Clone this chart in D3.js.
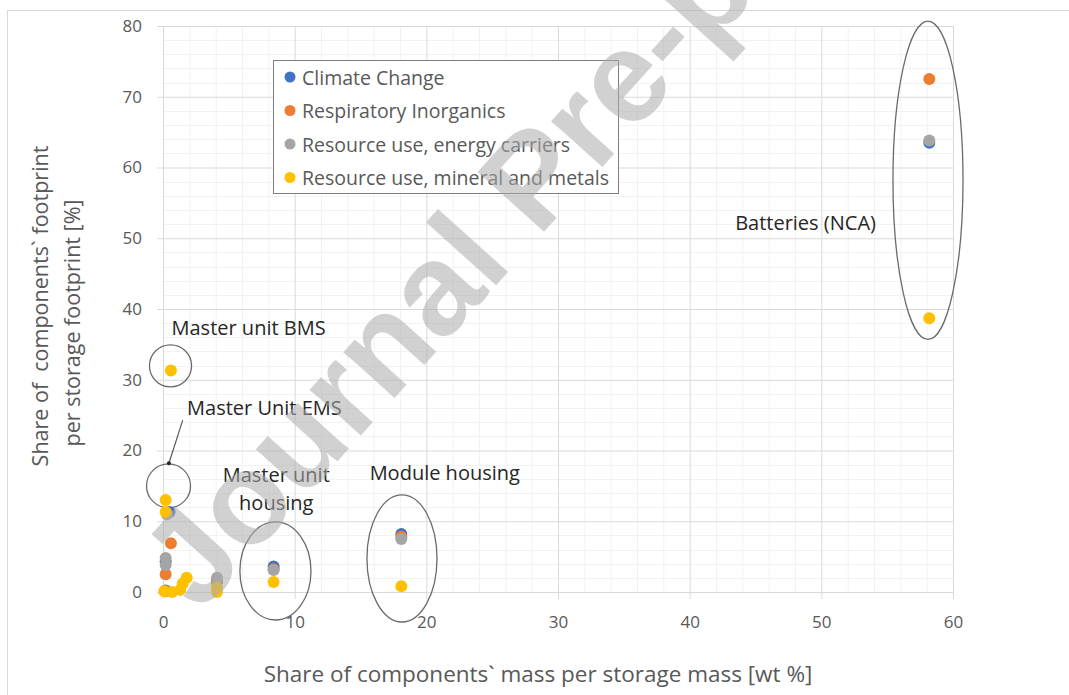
<!DOCTYPE html>
<html lang="en">
<head>
<meta charset="UTF-8">
<title>Component share scatter</title>
<style>
  body { margin: 0; background: #fff; }
  svg { display: block; font-family: "Open Sans", sans-serif; }
</style>
</head>
<body>
<svg id="chart" width="1069" height="695"></svg>
<script src="https://d3js.org/d3.v7.min.js"></script>
<script>
// series names + colours (legend order)
var seriesNames = ["Climate Change", "Respiratory Inorganics", "Resource use, energy carriers", "Resource use, mineral and metals"];
var seriesColors = ["#4472C4", "#ED7D31", "#A5A5A5", "#FFC000"];

// [mass share wt%, footprint share %]
var climateChange = [[58.2, 63.5], [18.1, 8.2], [8.4, 3.6], [4.1, 1.5], [0.5, 11.3], [0.2, 4.3], [0.2, 0.2]];
var respiratory = [[58.2, 72.5], [18.1, 7.8], [8.4, 3.2], [4.1, 1.8], [0.6, 6.9], [0.2, 2.5], [0.2, 0.1]];
var energyCarriers = [[58.2, 63.8], [18.1, 7.5], [8.4, 3.1], [4.1, 2.0], [0.2, 4.8], [0.2, 3.8], [0.3, 11.0]];
var mineralMetals = [[58.2, 38.7], [18.1, 0.8], [8.4, 1.4], [4.1, 0.6], [4.1, 0.0], [0.6, 31.3], [0.2, 13.0],
  [0.2, 11.3], [0.1, 0.1], [0.7, 0.0], [1.3, 0.3], [1.5, 1.2], [1.8, 2.0]];
var allSeries = [climateChange, respiratory, energyCarriers, mineralMetals];

var xTicks = [0, 10, 20, 30, 40, 50, 60];
var yTicks = [0, 10, 20, 30, 40, 50, 60, 70, 80];

// ellipses around component groups, in data units: [cx, cy, rx, ry]
var groupRings = [[58.1, 58.2, 2.66, 22.5], [18.15, 4.74, 2.66, 8.98], [8.54, 2.97, 2.7, 6.93],
  [0.57, 31.97, 1.6, 2.97], [0.42, 15.0, 1.67, 3.1]];
// labels: [text lines, x, y] in data units (centre of first line)
var groupLabels = [[["Batteries (NCA)"], 48.8, 52.2], [["Module housing"], 21.4, 16.8],
  [["Master unit", "housing"], 8.6, 16.5], [["Master unit BMS"], 6.5, 37.3], [["Master Unit EMS"], 7.7, 26.0]];

var svg = d3.select("#chart");
var x = d3.scaleLinear().domain([0, 60]).range([163, 953]);
var y = d3.scaleLinear().domain([0, 80]).range([592, 26]);

// chart frame
svg.append("rect").attr("x", 7.5).attr("y", 10.5).attr("width", 1080).attr("height", 700)
  .attr("fill", "#fff").attr("stroke", "#d9d9d9");

// minor grid
svg.append("g").selectAll("line").data(d3.range(2, 60, 2).filter(function(v) { return v % 10; }))
  .join("line").attr("x1", function(d) { return x(d) + 0.5; }).attr("x2", function(d) { return x(d) + 0.5; })
  .attr("y1", y(80)).attr("y2", y(0)).attr("stroke", "#f2f2f2");
svg.append("g").selectAll("line").data(d3.range(2, 80, 2).filter(function(v) { return v % 10; }))
  .join("line").attr("y1", function(d) { return Math.round(y(d)) + 0.5; }).attr("y2", function(d) { return Math.round(y(d)) + 0.5; })
  .attr("x1", x(0)).attr("x2", x(60)).attr("stroke", "#f2f2f2");

// major grid + axes
var xAxis = svg.append("g").attr("transform", "translate(0," + y(0) + ")")
  .call(d3.axisBottom(x).tickValues(xTicks).tickSize(7).tickPadding(17).tickSizeOuter(0));
xAxis.selectAll(".tick line").clone().attr("y2", -(y(0) - y(80))).attr("stroke", "#d9d9d9");
var yAxis = svg.append("g").attr("transform", "translate(" + x(0) + ",0)")
  .call(d3.axisLeft(y).tickValues(yTicks).tickSize(6).tickPadding(15).tickSizeOuter(0));
yAxis.selectAll(".tick line").clone().attr("x2", x(60) - x(0)).attr("stroke", "#d9d9d9");
svg.selectAll(".domain").attr("stroke", "#d9d9d9");
svg.selectAll(".tick line").attr("stroke", "#d9d9d9");
svg.selectAll(".tick text").attr("fill", "#595959").style("font-size", "17px").style("font-family", "Open Sans");

// axis titles
svg.append("text").attr("x", 538).attr("y", 673).attr("text-anchor", "middle").attr("dominant-baseline", "central")
  .attr("fill", "#595959").style("font-size", "22.5px").text("Share of components` mass per storage mass [wt %]");
svg.append("text").attr("transform", "translate(39,306) rotate(-90)").attr("text-anchor", "middle")
  .attr("dominant-baseline", "central").attr("fill", "#595959").style("font-size", "21.5px")
  .attr("xml:space", "preserve").text("Share of  components` footprint");
svg.append("text").attr("transform", "translate(71,323) rotate(-90)").attr("text-anchor", "middle")
  .attr("dominant-baseline", "central").attr("fill", "#595959").style("font-size", "21.5px")
  .text("per storage footprint [%]");

// group rings
svg.append("g").selectAll("ellipse").data(groupRings).join("ellipse")
  .attr("cx", function(d) { return x(d[0]); }).attr("cy", function(d) { return y(d[1]); })
  .attr("rx", function(d) { return x(d[2]) - x(0); }).attr("ry", function(d) { return y(0) - y(d[3]); })
  .attr("fill", "none").attr("stroke", "#6b6b6b").attr("stroke-width", 1.3);

// arrow from EMS label to its ring
svg.append("line").attr("x1", x(1.5)).attr("y1", y(24.3)).attr("x2", x(0.45)).attr("y2", y(18.2))
  .attr("stroke", "#595959").attr("stroke-width", 1.2);
svg.append("circle").attr("cx", x(0.45)).attr("cy", y(18.2)).attr("r", 2).attr("fill", "#262626");

// group labels
groupLabels.forEach(function(g) {
  var t = svg.append("text").attr("x", x(g[1])).attr("y", y(g[2])).attr("text-anchor", "middle")
    .attr("fill", "#262626").style("font-size", "20px");
  g[0].forEach(function(line, i) {
    t.append("tspan").attr("x", x(g[1])).attr("dy", i ? 28 : 7).text(line);
  });
});

// points
allSeries.forEach(function(s, i) {
  svg.append("g").selectAll("circle").data(s).join("circle")
    .attr("cx", function(d) { return x(d[0]); }).attr("cy", function(d) { return y(d[1]); })
    .attr("r", 6).attr("fill", seriesColors[i]);
});

// legend
var lg = svg.append("g").attr("transform", "translate(273,60)");
lg.append("rect").attr("x", 0.5).attr("y", 0.5).attr("width", 345).attr("height", 133)
  .attr("fill", "#fff").attr("stroke", "#7f7f7f");
seriesNames.forEach(function(n, i) {
  var row = lg.append("g").attr("transform", "translate(0," + (17 + i * 33.5) + ")");
  row.append("circle").attr("cx", 17).attr("cy", 0).attr("r", 5.5).attr("fill", seriesColors[i]);
  row.append("text").attr("x", 29).attr("y", 0).attr("dominant-baseline", "central")
    .attr("fill", "#595959").style("font-size", "19.5px").text(n);
});

// watermark
svg.append("text").attr("transform", "translate(200,614) rotate(-48)")
  .style("font-family", "Liberation Sans").style("font-size", "130px").style("font-weight", "bold")
  .attr("fill", "#acacac").attr("fill-opacity", 0.55).text("Journal Pre-proof");
</script>
</body>
</html>
